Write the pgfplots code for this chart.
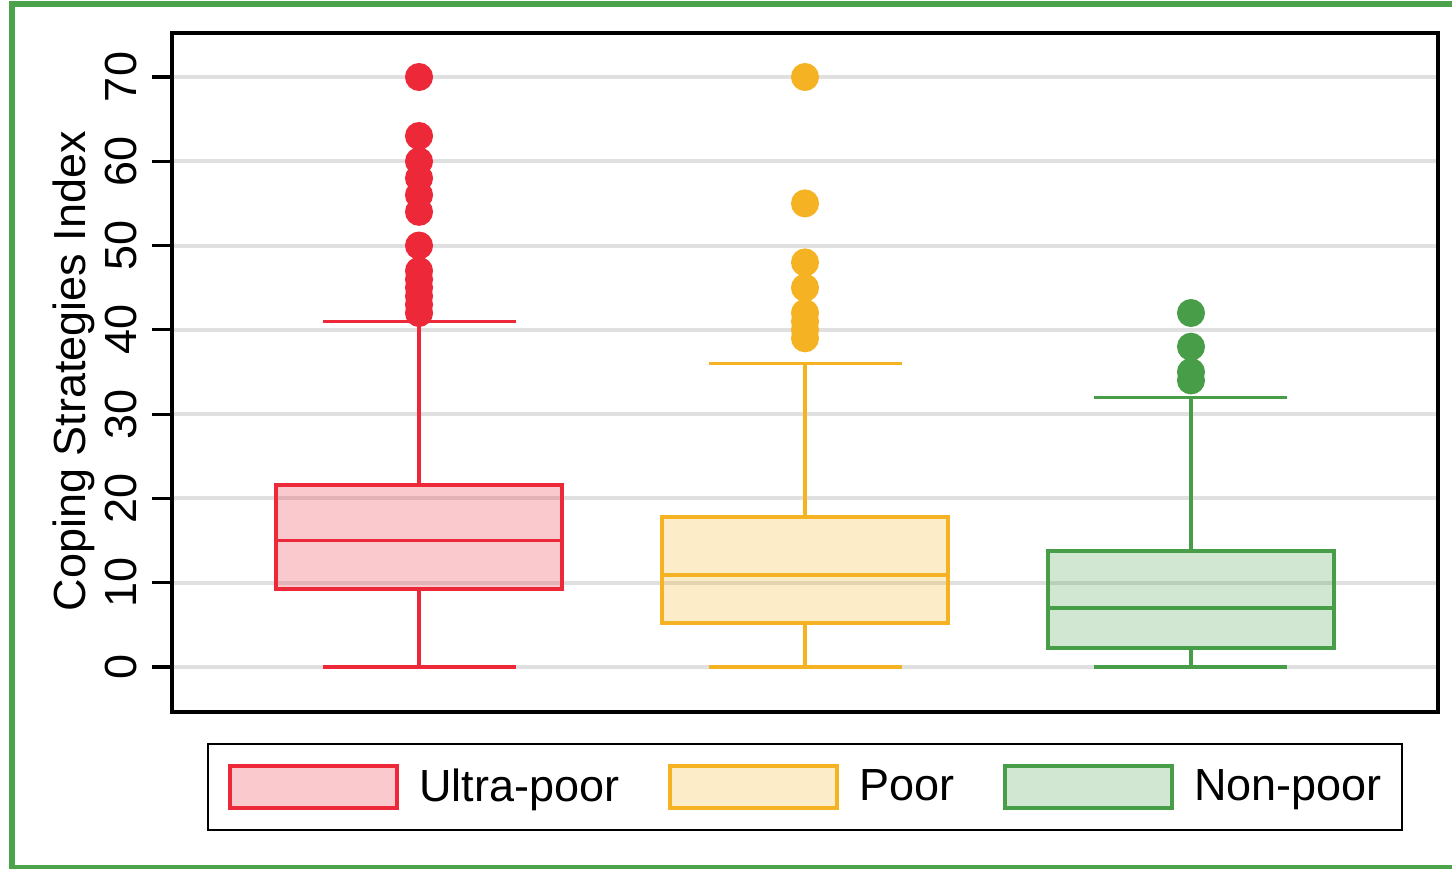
\documentclass[border=0pt]{standalone}
\usepackage{pgfplots}
\pgfplotsset{compat=1.18}
\usepgfplotslibrary{statistics}
\usepackage{fontspec}
\setmainfont{Liberation Sans}
\definecolor{cred}{RGB}{237,41,57}
\definecolor{cyel}{RGB}{245,178,35}
\definecolor{cgrn}{RGB}{72,158,72}
\definecolor{cframe}{RGB}{76,163,76}
\begin{document}
\begin{tikzpicture}
\begin{axis}[
  scale only axis, width=633bp, height=339.5bp,
  xmin=0.36, xmax=3.64, ymin=-5.34, ymax=75.22,
  xtick=\empty, ytick={0,10,...,70},
  axis line style={line width=1.6bp},
  major tick style={line width=1.6bp, black},
  tick align=outside, major tick length=10bp,
  ytick pos=left,
  ymajorgrids, grid style={line width=2bp, gray!24},
  /pgf/number format/assume math mode=true,
  yticklabel style={rotate=90, anchor=south, inner sep=0pt, font=\fontsize{22.5bp}{27bp}\selectfont},
  yticklabel shift=7.2bp,
  ylabel={Coping Strategies Index},
  ylabel style={font=\fontsize{22.5bp}{27bp}\selectfont, inner sep=0pt, at={(axis description cs:-0.0687,0.502)}, anchor=base, rotate=0},
  boxplot/draw direction=y,
  legend columns=3,
  legend cell align=left,
  legend style={at={(axis description cs:0.5,0)}, yshift=-15.5bp, anchor=north,
    draw=black, line width=1bp, inner xsep=10bp, inner ysep=10bp,
    font=\fontsize{22.5bp}{27bp}\selectfont,
    nodes={inner sep=0pt},
    /tikz/every odd column/.append style={column sep=10bp},
    /tikz/every even column/.append style={column sep=24.5bp}},
]
\addlegendimage{legend image code/.code={\draw[draw=cred, fill=cred!25, line width=2bp] (0bp,-10.5bp) rectangle (83.5bp,10.5bp);}}
\addlegendentry{Ultra-poor}
\addlegendimage{legend image code/.code={\draw[draw=cyel, fill=cyel!25, line width=2bp] (0bp,-10.5bp) rectangle (83.5bp,10.5bp);}}
\addlegendentry{Poor}
\addlegendimage{legend image code/.code={\draw[draw=cgrn, fill=cgrn!25, line width=2bp] (0bp,-10.5bp) rectangle (83.5bp,10.5bp);}}
\addlegendentry{Non-poor}

\addplot[forget plot, draw=cred, line width=1.6bp,
  mark=*, mark size=6.2bp, mark options={fill=cred, draw=none, solid},
  boxplot prepared={draw position=1, lower whisker=0, lower quartile=9.3, median=15,
    upper quartile=21.6, upper whisker=41, box extend=0.74, whisker extend=0.5,
    every box/.style={line width=2bp, fill=cred, fill opacity=0.25},
    every median/.style={line width=1.9bp}}]
  table[row sep=\\, y index=0] {y\\42\\43\\44\\45\\46\\47\\50\\54\\56\\58\\60\\63\\70\\};

\addplot[forget plot, draw=cyel, line width=1.6bp,
  mark=*, mark size=6.2bp, mark options={fill=cyel, draw=none, solid},
  boxplot prepared={draw position=2, lower whisker=0, lower quartile=5.2, median=10.9,
    upper quartile=17.8, upper whisker=36, box extend=0.74, whisker extend=0.5,
    every box/.style={line width=2bp, fill=cyel, fill opacity=0.25},
    every median/.style={line width=1.9bp}}]
  table[row sep=\\, y index=0] {y\\39\\40\\41\\42\\45\\48\\55\\70\\};

\addplot[forget plot, draw=cgrn, line width=1.6bp,
  mark=*, mark size=6.2bp, mark options={fill=cgrn, draw=none, solid},
  boxplot prepared={draw position=3, lower whisker=0, lower quartile=2.25, median=7,
    upper quartile=13.8, upper whisker=32, box extend=0.74, whisker extend=0.5,
    every box/.style={line width=2bp, fill=cgrn, fill opacity=0.25},
    every median/.style={line width=1.9bp}}]
  table[row sep=\\, y index=0] {y\\34\\35\\38\\42\\};
\end{axis}
\draw[cframe, line width=3bp] (660bp,353.75bp) -- (-80bp,353.75bp) -- (-80bp,-77.75bp) -- (660bp,-77.75bp);
\pgfresetboundingbox
\useasboundingbox (-86bp,-78.5bp) rectangle (640bp,356bp);
\end{tikzpicture}
\end{document}
